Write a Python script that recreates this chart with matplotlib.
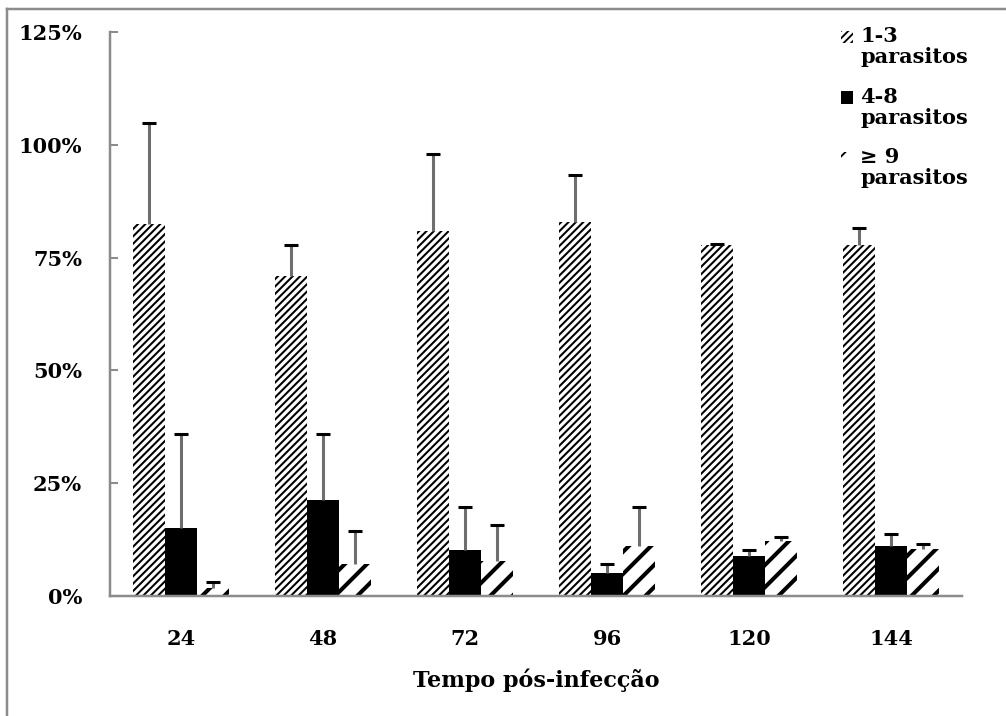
import matplotlib
matplotlib.use("Agg")
import matplotlib.pyplot as plt
import numpy as np
from matplotlib.patches import Rectangle
from matplotlib.lines import Line2D
from matplotlib.legend_handler import HandlerPatch

# dados
tempos = ["24", "48", "72", "96", "120", "144"]
series = ["1-3\nparasitos", "4-8\nparasitos", "\u2265 9\nparasitos"]
media_1_3 = [0.825, 0.710, 0.808, 0.830, 0.777, 0.779]
sup_1_3 = [1.049, 0.779, 0.980, 0.934, 0.781, 0.816]
media_4_8 = [0.150, 0.212, 0.103, 0.052, 0.088, 0.111]
sup_4_8 = [0.358, 0.358, 0.198, 0.070, 0.102, 0.138]
media_9 = [0.018, 0.071, 0.078, 0.110, 0.122, 0.104]
sup_9 = [0.031, 0.144, 0.158, 0.198, 0.131, 0.115]

plt.rcParams["font.family"] = ["DejaVu Serif"]
plt.rcParams["font.weight"] = "bold"

DPI = 133.333
fig = plt.figure(figsize=(1006 / DPI, 716 / DPI), dpi=DPI)
ax = fig.add_axes([0.1093, 0.1676, 0.847, 0.7877])

x = np.arange(len(tempos))
w = 0.225
estilos = [
    dict(hatch="//////", hlw=1.1, face="white"),
    dict(hatch=None, hlw=1.1, face="black"),
    dict(hatch="//", hlw=2.2, face="white"),
]
medias = [media_1_3, media_4_8, media_9]
sups = [sup_1_3, sup_4_8, sup_9]

handles = []
for i, (m, s, st) in enumerate(zip(medias, sups, estilos)):
    pos = x + (i - 1) * w
    with plt.rc_context({"hatch.linewidth": st["hlw"], "hatch.color": "black"}):
        bars = ax.bar(pos, m, width=w, color=st["face"], edgecolor="black",
                      linewidth=0, hatch=st["hatch"], zorder=2)
    handles.append(bars.patches[0])
    # barras de erro (so para cima)
    ax.vlines(pos, m, s, color="#6e6e6e", linewidth=1.65, zorder=3)
    ax.plot(pos, s, linestyle="none", marker="_", markersize=7.1,
            markeredgewidth=1.65, color="black", zorder=4)

ax.set_xlim(-0.5, len(tempos) - 0.5)
ax.set_ylim(0, 1.25)
ax.set_yticks(np.arange(0, 1.26, 0.25))
ax.set_yticklabels([f"{int(round(v*100))}%" for v in np.arange(0, 1.26, 0.25)])
ax.set_xticks(x)
ax.set_xticklabels(tempos)

for sp in ["top", "right"]:
    ax.spines[sp].set_visible(False)
for sp in ["left", "bottom"]:
    ax.spines[sp].set_color("#8c8c8c")
    ax.spines[sp].set_linewidth(1.35)

ax.tick_params(axis="y", direction="in", length=4.5, width=1.1, color="#8c8c8c",
               pad=15, labelsize=11.25)
ax.tick_params(axis="x", length=0, pad=18, labelsize=11.25)
ax.set_xlabel("Tempo pós-infecção", fontsize=12, fontweight="bold", labelpad=10.5)


def handle_topo(legend, orig_handle, xdescent, ydescent, width, height, fontsize):
    return Rectangle((-xdescent, -ydescent + 0.5 * fontsize), width, height)


leg = ax.legend(handles, series, loc="upper left", bbox_to_anchor=(0.826, 0.978),
                bbox_transform=fig.transFigure, frameon=False, fontsize=11.25,
                handlelength=0.55, handleheight=0.55, handletextpad=0.35,
                labelspacing=0.95, borderpad=0,
                handler_map={Rectangle: HandlerPatch(patch_func=handle_topo)})
for t in leg.get_texts():
    t.set_linespacing(1.05)

# moldura da figura (so esquerda e topo visiveis)
fig.add_artist(Line2D([0.007, 0.007], [0.0, 0.987], transform=fig.transFigure,
                      color="#8c8c8c", linewidth=1.35))
fig.add_artist(Line2D([0.007, 1.0], [0.987, 0.987], transform=fig.transFigure,
                      color="#8c8c8c", linewidth=1.35))

fig.savefig("out.png", dpi=DPI)
